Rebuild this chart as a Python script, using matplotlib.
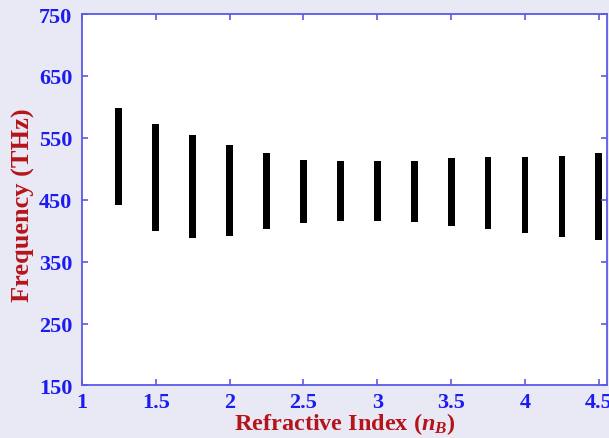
import numpy as np
import matplotlib
matplotlib.use('Agg')
import matplotlib.pyplot as plt

# refractive index of layer B and band edges (THz)
n_b = [1.25, 1.5, 1.75, 2.0, 2.25, 2.5, 2.75, 3.0, 3.25, 3.5, 3.75, 4.0, 4.25, 4.5]
f_top = [598, 573, 554, 538, 525, 515, 512, 512, 513, 517, 519, 519, 521, 525]
f_bot = [441, 399, 389, 391, 403, 412, 416, 416, 414, 408, 403, 397, 390, 385]

xticks = [1, 1.5, 2, 2.5, 3, 3.5, 4, 4.5]
yticks = [150, 250, 350, 450, 550, 650, 750]

plt.rcParams['font.family'] = 'Liberation Serif'
plt.rcParams['font.weight'] = 'bold'
plt.rcParams['mathtext.fontset'] = 'custom'
plt.rcParams['mathtext.it'] = 'Liberation Serif:bold:italic'
plt.rcParams['mathtext.rm'] = 'Liberation Serif:bold'

blue = '#1c1cf0'
spine = '#5a5ae6'
red = '#b5141a'

fig = plt.figure(figsize=(6.09, 4.39), dpi=100, facecolor='#e9e9f5')
ax = fig.add_axes([0.1346, 0.1196, 0.8616, 0.8462])
ax.set_facecolor('white')

heights = np.array(f_top) - np.array(f_bot)
ax.bar(n_b, heights, bottom=f_bot, width=0.046, color='black')

ax.set_xlim(1, 4.553)
ax.set_ylim(150, 750)
ax.set_xticks(xticks)
ax.set_xticklabels(['1', '1.5', '2', '2.5', '3', '3.5', '4', '4.5'])
ax.set_yticks(yticks)

for s in ax.spines.values():
    s.set_color(spine)
    s.set_linewidth(1.3)
ax.tick_params(direction='in', length=4, width=1.2, color=spine,
               top=True, right=True, labelsize=16, labelcolor=blue)
ax.tick_params(axis='x', pad=5)
ax.tick_params(axis='y', pad=7)

ax.set_xlabel('Refractive Index ($n_B$)', fontsize=17.5, fontweight='bold',
              color=red, labelpad=-2)
ax.set_ylabel('Frequency (THz)', fontsize=19, fontweight='bold', color=red)
ax.yaxis.set_label_coords(-0.09, 0.487)

fig.savefig('out.png', dpi=100, facecolor=fig.get_facecolor())
